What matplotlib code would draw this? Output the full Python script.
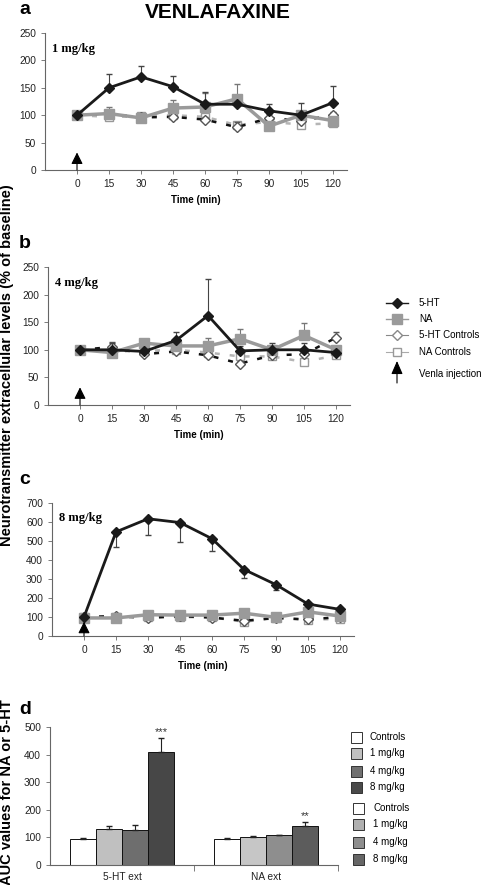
import matplotlib.pyplot as plt
import numpy as np

plt.rcParams['font.family'] = ['Liberation Sans', 'DejaVu Sans']

# time points (min)
times = [0, 15, 30, 45, 60, 75, 90, 105, 120]

# panel a: 1 mg/kg
a_ht = [100, 150, 170, 152, 120, 120, 108, 100, 123]
a_ht_err = [0, 25, 20, 20, 22, 5, 12, 22, 30]
a_na = [100, 103, 95, 113, 115, 130, 80, 100, 90]
a_na_err = [0, 12, 8, 15, 25, 27, 5, 5, 5]
a_htc = [100, 102, 96, 97, 92, 78, 95, 90, 100]
a_htc_err = [0, 8, 5, 3, 5, 10, 8, 8, 5]
a_nac = [100, 97, 98, 100, 97, 82, 88, 83, 85]
a_nac_err = [0, 5, 5, 5, 5, 5, 5, 5, 5]

# panel b: 4 mg/kg
b_ht = [100, 100, 97, 117, 162, 98, 100, 100, 95]
b_ht_err = [0, 12, 5, 16, 67, 8, 12, 13, 5]
b_na = [100, 95, 112, 107, 107, 120, 100, 126, 100]
b_na_err = [0, 5, 5, 5, 15, 17, 5, 22, 5]
b_htc = [100, 105, 92, 97, 90, 75, 90, 92, 122]
b_htc_err = [0, 10, 4, 4, 4, 5, 4, 4, 10]
b_nac = [100, 97, 98, 100, 95, 88, 88, 78, 90]
b_nac_err = [0, 4, 4, 4, 4, 4, 4, 4, 4]

# panel c: 8 mg/kg (5-HT errors drawn downward)
c_ht = [100, 548, 617, 597, 512, 350, 270, 168, 140]
c_ht_err = [0, 78, 87, 100, 65, 47, 30, 10, 8]
c_na = [95, 95, 112, 110, 110, 120, 98, 127, 105]
c_htc = [100, 105, 95, 105, 97, 80, 95, 87, 100]
c_nac = [100, 98, 100, 100, 98, 75, 95, 85, 90]

# panel d: AUC
groups = ['5-HT ext', 'NA ext']
doses = ['Controls', '1 mg/kg', '4 mg/kg', '8 mg/kg']
auc_ht = [93, 132, 128, 410]
auc_ht_err = [5, 10, 18, 50]
auc_na = [95, 102, 107, 142]
auc_na_err = [3, 2, 3, 15]
stars = ['***', '**']

W, H = 495, 885
fig = plt.figure(figsize=(4.95, 8.85), dpi=100)

C_HT = '#1a1a1a'
C_NA = '#9a9a9a'
C_NAC = '#b5b5b5'


def fx(px):
    return px / W


def fy(py):
    return 1 - py / H


def line_panel(rect, ymax, ystep, dose, ht, ht_err, na, na_err, htc, htc_err,
               nac, nac_err, down=False, arrow_top=30):
    ax = fig.add_axes(rect)
    t = np.array(times)
    # controls
    ax.errorbar(t, nac, yerr=[np.zeros(len(nac)), nac_err], color=C_NAC, lw=1.8,
                ls=(0, (2, 4)), marker='s', ms=6, mfc='white', mec='#999999',
                ecolor='#999999', elinewidth=0.8, capsize=2, zorder=2)
    ax.errorbar(t, htc, yerr=[np.zeros(len(htc)), htc_err], color='#111111', lw=1.8,
                ls=(0, (2, 4)), marker='D', ms=5, mfc='white', mec='#555555',
                ecolor='#555555', elinewidth=0.8, capsize=2, zorder=3)
    # treated
    ax.errorbar(t, na, yerr=[np.zeros(len(na)), na_err], color=C_NA, lw=2.5,
                marker='s', ms=7, mfc=C_NA, mec=C_NA, ecolor='#777777',
                elinewidth=0.8, capsize=2, zorder=4)
    if down:
        yerr = [ht_err, np.zeros(len(ht_err))]
    else:
        yerr = [np.zeros(len(ht_err)), ht_err]
    ax.errorbar(t, ht, yerr=yerr, color=C_HT, lw=2, marker='D', ms=5.5,
                mfc=C_HT, mec=C_HT, ecolor='#444444', elinewidth=0.8,
                capsize=2, zorder=5)
    # injection arrow
    ax.annotate('', xy=(0, arrow_top), xytext=(0, 0),
                arrowprops=dict(arrowstyle='-|>,head_width=0.35,head_length=0.7',
                                color='black', lw=0.8, shrinkA=0, shrinkB=0),
                zorder=6)
    ax.set_xlim(-15, 126.5)
    ax.set_ylim(0, ymax)
    ax.set_xticks(times)
    ax.set_yticks(np.arange(0, ymax + 1, ystep))
    for s in ['top', 'right']:
        ax.spines[s].set_visible(False)
    for s in ['left', 'bottom']:
        ax.spines[s].set_color('#666666')
        ax.spines[s].set_linewidth(0.8)
    ax.tick_params(labelsize=7.3, length=3, width=0.6, color='#666666',
                   labelcolor='#222222')
    ax.set_xlabel('Time (min)', fontsize=7, fontweight='bold', labelpad=4)
    ax.text(-11.5, ymax * 0.93, dose, fontsize=9, fontweight='bold',
            family='Liberation Serif', va='top', ha='left')
    return ax


w_line = 0.61
line_panel([fx(45), fy(170), w_line, (170 - 33) / H], 250, 50, '1 mg/kg',
           a_ht, a_ht_err, a_na, a_na_err, a_htc, a_htc_err, a_nac, a_nac_err,
           arrow_top=32)
line_panel([fx(48), fy(405), w_line, (405 - 267) / H], 250, 50, '4 mg/kg',
           b_ht, b_ht_err, b_na, b_na_err, b_htc, b_htc_err, b_nac, b_nac_err,
           arrow_top=32)
zeros9 = [0, 4, 4, 4, 4, 4, 4, 4, 4]
line_panel([fx(52), fy(636), w_line, (636 - 503) / H], 700, 100, '8 mg/kg',
           c_ht, c_ht_err, c_na, zeros9, c_htc, zeros9, c_nac, zeros9,
           down=True, arrow_top=75)

# panel d bars
axd = fig.add_axes([fx(50), fy(865), (338 - 50) / W, (865 - 727) / H])
bw = 0.18
cols_ht = ['white', '#c0c0c0', '#6e6e6e', '#474747']
cols_na = ['white', '#c6c6c6', '#8e8e8e', '#5c5c5c']
for gi, (vals, errs, cols) in enumerate([(auc_ht, auc_ht_err, cols_ht),
                                        (auc_na, auc_na_err, cols_na)]):
    xs = gi + (np.arange(len(doses)) - 1.5) * bw
    axd.bar(xs, vals, width=bw, color=cols, edgecolor='#111111', lw=0.7,
            zorder=2)
    axd.errorbar(xs, vals, yerr=[np.zeros(len(errs)), errs], fmt='none',
                 ecolor='#222222', elinewidth=0.8, capsize=2, zorder=3)
    axd.text(xs[-1], vals[-1] + errs[-1] + 3, stars[gi], ha='center',
             va='bottom', fontsize=8, color='#333333')
axd.set_xlim(-0.5, 1.5)
axd.set_ylim(0, 500)
axd.set_yticks(np.arange(0, 501, 100))
axd.set_xticks([0, 1])
axd.set_xticklabels(groups)
axd.set_xticks([0.5, 1.5], minor=True)
axd.tick_params(axis='x', which='major', length=0, pad=5)
axd.tick_params(axis='x', which='minor', length=4, width=0.6, color='#666666')
for s in ['top', 'right']:
    axd.spines[s].set_visible(False)
for s in ['left', 'bottom']:
    axd.spines[s].set_color('#666666')
    axd.spines[s].set_linewidth(0.8)
axd.tick_params(labelsize=7.3, width=0.6, color='#666666', labelcolor='#222222')
axd.tick_params(axis='y', length=3)

# titles and panel letters
fig.text(fx(218), fy(12), 'VENLAFAXINE', fontsize=15, fontweight='bold',
         ha='center', va='center')
for letter, py in [('a', 10), ('b', 243), ('c', 480), ('d', 709)]:
    fig.text(fx(19), fy(py), letter, fontsize=14, fontweight='bold',
             ha='left', va='center')
fig.text(fx(7), fy(365), 'Neurotransmitter extracellular levels (% of baseline)',
         rotation=90, fontsize=10.5, fontweight='bold', ha='center', va='center')
fig.text(fx(7), fy(792), 'AUC values for NA or 5-HT', rotation=90,
         fontsize=10.5, fontweight='bold', ha='center', va='center')

# line legend (drawn in figure coordinates)
legax = fig.add_axes([0, 0, 1, 1], facecolor='none')
legax.set_xlim(0, W)
legax.set_ylim(H, 0)
legax.axis('off')
leg_items = [
    ('5-HT', dict(color=C_HT, lw=1, marker='D', ms=5.5, mfc=C_HT, mec=C_HT), 303),
    ('NA', dict(color=C_NA, lw=1, marker='s', ms=7, mfc=C_NA, mec=C_NA), 319),
    ('5-HT Controls', dict(color='#888888', lw=0.8, marker='D', ms=5.5, mfc='white',
                           mec='#888888'), 335),
    ('NA Controls', dict(color='#aaaaaa', lw=0.8, marker='s', ms=6, mfc='white',
                         mec='#999999'), 352),
]
for label, style, py in leg_items:
    legax.plot([386, 397, 408], [py, py, py], markevery=[1], **style)
    legax.text(419, py, label, fontsize=7, va='center', ha='left')
legax.annotate('', xy=(397, 361), xytext=(397, 383),
               arrowprops=dict(arrowstyle='-|>,head_width=0.35,head_length=0.8',
                               color='black', lw=0.8, shrinkA=0, shrinkB=0))
legax.text(419, 374, 'Venla injection', fontsize=7, va='center', ha='left')

# bar legends
leg1 = ['white', '#c0c0c0', '#707070', '#4a4a4a']
leg2 = ['white', '#b0b0b0', '#8e8e8e', '#666666']
for cols, sx, tx, rows in [(leg1, 356, 370, [737, 753, 771, 787]),
                           (leg2, 358, 373, [808, 824, 842, 859])]:
    for c, lab, py in zip(cols, doses, rows):
        legax.add_patch(plt.Rectangle((sx - 5.5, py - 5.5), 11, 11,
                                      facecolor=c, edgecolor='#333333', lw=0.7))
        legax.text(tx, py, lab, fontsize=7, va='center', ha='left')

fig.savefig('out.png', dpi=100)
